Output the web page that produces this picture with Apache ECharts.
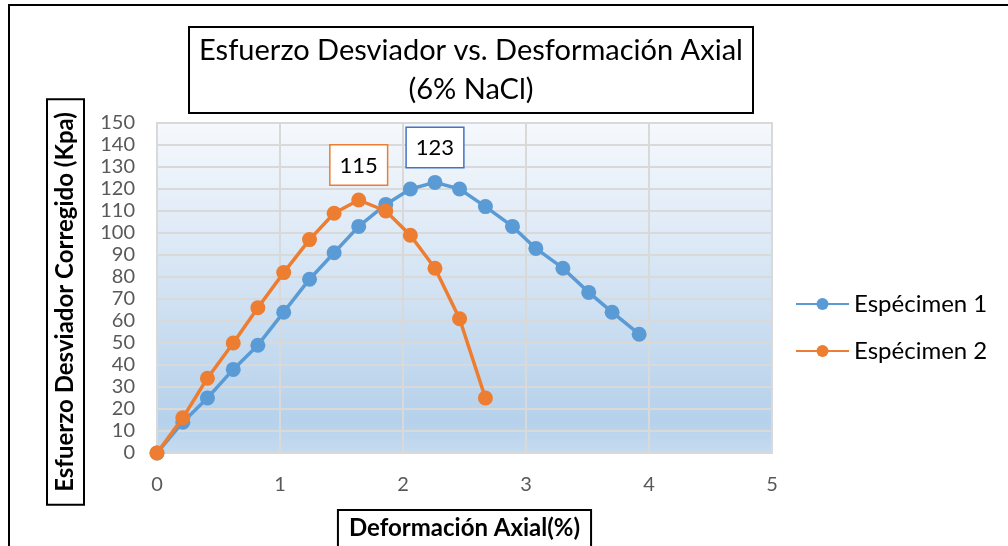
<!DOCTYPE html>
<html>
<head>
<meta charset="utf-8">
<script src="https://cdn.jsdelivr.net/npm/echarts@6/dist/echarts.min.js"></script>
<style>
  html, body { margin: 0; padding: 0; background: #fff; }
  #chart { width: 1008px; height: 546px; }
</style>
</head>
<body>
<div id="chart"></div>
<script>
// deformación axial (%) y esfuerzo (kPa)
var strain1 = [0, 0.21, 0.41, 0.62, 0.82, 1.03, 1.24, 1.44, 1.64, 1.86, 2.06, 2.26, 2.46, 2.67, 2.89, 3.08, 3.30, 3.51, 3.70, 3.92];
var stress1 = [0, 14, 25, 38, 49, 64, 79, 91, 103, 113, 120, 123, 120, 112, 103, 93, 84, 73, 64, 54];
var strain2 = [0, 0.21, 0.41, 0.62, 0.82, 1.03, 1.24, 1.44, 1.64, 1.86, 2.06, 2.26, 2.46, 2.67];
var stress2 = [0, 16, 34, 50, 66, 82, 97, 109, 115, 110, 99, 84, 61, 25];
var seriesNames = ['Espécimen 1', 'Espécimen 2'];
var colors = ['#5b9bd5', '#ed7d31'];
var labelBorders = ['#4472c4', '#ed7d31'];

var font = 'Lato';

// arma los puntos y marca el máximo con su etiqueta
function buildData(xs, ys, idx) {
  var peak = ys.indexOf(Math.max.apply(null, ys));
  return xs.map(function (x, i) {
    var item = { value: [x, ys[i]] };
    if (i === peak) {
      item.label = {
        show: true,
        position: 'top',
        distance: 8,
        formatter: '{@[1]}',
        color: '#000',
        fontSize: 22,
        fontFamily: font,
        backgroundColor: '#fff',
        borderColor: labelBorders[idx],
        borderWidth: 1.5,
        padding: [9, 9, 8, 9]
      };
    }
    return item;
  });
}

var chart = echarts.init(document.getElementById('chart'));
var option = {
  animation: false,
  title: {
    text: 'Esfuerzo Desviador vs. Desformación Axial\n(6% NaCl)',
    left: 461,
    top: 27,
    textAlign: 'center',
    padding: [4, 10, 4, 10],
    borderColor: '#000',
    borderWidth: 2,
    textStyle: { fontFamily: font, fontWeight: 'normal', fontSize: 29, lineHeight: 39, color: '#000' }
  },
  legend: {
    orient: 'vertical',
    left: 790,
    top: 287,
    itemWidth: 53,
    itemHeight: 15,
    itemGap: 23,
    textStyle: { fontFamily: font, fontSize: 24, color: '#000' },
    data: seriesNames
  },
  grid: {
    left: 157, right: 236, top: 123, bottom: 93,
    outerBoundsMode: 'none',
    show: true,
    borderColor: '#d9d9d9',
    borderWidth: 2,
    backgroundColor: new echarts.graphic.LinearGradient(0, 0, 0, 1, [
      { offset: 0, color: '#f6f9fd' },
      { offset: 0.9, color: '#b6d1eb' },
      { offset: 1, color: '#c6dbef' }
    ])
  },
  xAxis: {
    type: 'value', min: 0, max: 5, interval: 1,
    axisLine: { show: false },
    axisTick: { show: false },
    axisLabel: { color: '#595959', fontFamily: font, fontSize: 20, margin: 22 },
    splitLine: { lineStyle: { color: '#d9d9d9', width: 2 } },
    name: 'Deformación Axial(%)',
    nameLocation: 'middle',
    nameGap: 57,
    nameTextStyle: {
      fontFamily: font, fontSize: 24, fontWeight: 'bold', color: '#000',
      borderColor: '#000', borderWidth: 2, padding: [6, 11, 12, 11]
    }
  },
  yAxis: {
    type: 'value', min: 0, max: 150, interval: 10,
    axisLine: { show: false },
    axisTick: { show: false },
    axisLabel: { color: '#595959', fontFamily: font, fontSize: 20, margin: 22 },
    splitLine: { lineStyle: { color: '#d9d9d9', width: 2 } }
  },
  graphic: [
    {
      type: 'rect', silent: true,
      shape: { x: 9, y: 5, width: 1100, height: 600 },
      style: { fill: 'none', stroke: '#000', lineWidth: 2 }
    },
    {
      type: 'text', x: 65.5, y: 302, rotation: Math.PI / 2,
      style: {
        text: 'Esfuerzo Desviador Corregido (Kpa)',
        font: 'bold 24px ' + font, fill: '#000',
        align: 'center', verticalAlign: 'middle',
        padding: [7, 13, 6, 13], borderColor: '#000', borderWidth: 2
      }
    }
  ],
  series: [
    {
      name: seriesNames[0], type: 'line',
      data: buildData(strain1, stress1, 0),
      symbol: 'circle', symbolSize: 15,
      lineStyle: { color: colors[0], width: 3.5 },
      itemStyle: { color: colors[0] },
      z: 2
    },
    {
      name: seriesNames[1], type: 'line',
      data: buildData(strain2, stress2, 1),
      symbol: 'circle', symbolSize: 15,
      lineStyle: { color: colors[1], width: 3.5 },
      itemStyle: { color: colors[1] },
      z: 3
    }
  ]
};
chart.setOption(option);
</script>
</body>
</html>
